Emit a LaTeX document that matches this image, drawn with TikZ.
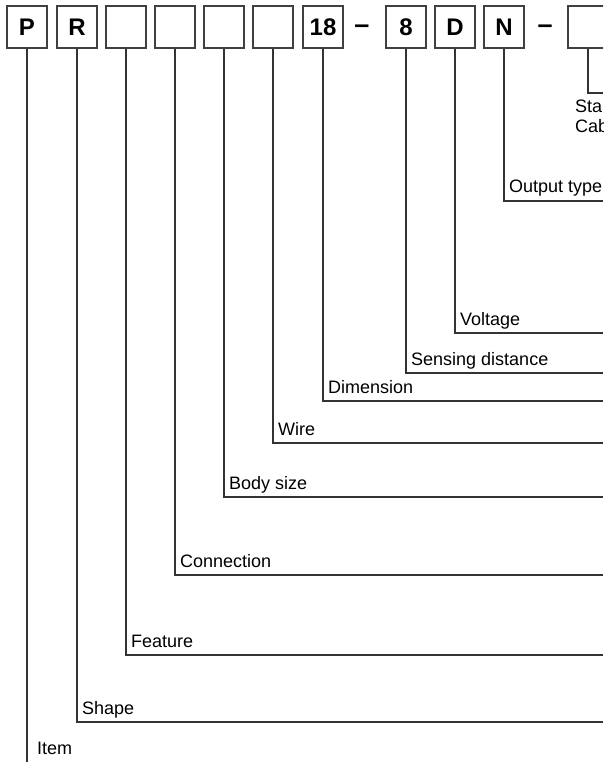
\documentclass[tikz,border=0pt]{standalone}
\usepackage{fontspec}
\setmainfont{Liberation Sans}
\usetikzlibrary{positioning}

\begin{document}
\begin{tikzpicture}[x=1pt,y=-1pt,
    codebox/.style={draw=black!75,line width=1.4pt,minimum width=40pt,minimum height=42pt,
        inner sep=0pt,font=\fontsize{24}{24}\selectfont\bfseries},
    codedash/.style={anchor=base,inner sep=0pt,font=\fontsize{27}{27}\selectfont\bfseries},
    lead/.style={draw=black!80,line width=1.1pt},
    lbl/.style={anchor=base west,inner sep=0pt,font=\fontsize{18}{20}\selectfont}]
    \useasboundingbox (0,0) rectangle (603,762);
    \clip (0,0) rectangle (603,762);

    % code boxes
    \node[codebox] (item) at (27,27) {P};
    \node[codebox] (shape) at (77,27) {R};
    \node[codebox] (feature) at (126,27) {};
    \node[codebox] (connection) at (175,27) {};
    \node[codebox] (bodysize) at (224,27) {};
    \node[codebox] (wire) at (273,27) {};
    \node[codebox] (dimension) at (323,27) {18};
    \node[codebox] (sensing) at (406,27) {8};
    \node[codebox] (voltage) at (455,27) {D};
    \node[codebox] (output) at (504,27) {N};
    \node[codebox] (cable) at (588,27) {};
    \node[codedash] (dashA) at (362,34) {--};
    \node[codedash] (dashB) at (545,34) {--};

    % labels
    \node[lbl] (stalbl) at (575,113) {Sta};
    \node[lbl] (cablbl) at (575,133) {Cab};
    \node[lbl] (outputlbl) at (509,193) {Output type};
    \node[lbl] (voltagelbl) at (460,325) {Voltage};
    \node[lbl] (sensinglbl) at (411,365) {Sensing distance};
    \node[lbl] (dimensionlbl) at (328,393) {Dimension};
    \node[lbl] (wirelbl) at (278,435) {Wire};
    \node[lbl] (bodysizelbl) at (229,489) {Body size};
    \node[lbl] (connectionlbl) at (180,567) {Connection};
    \node[lbl] (featurelbl) at (131,647) {Feature};
    \node[lbl] (shapelbl) at (82,714) {Shape};
    \node[lbl] (itemlbl) at (37,754) {Item};

    % line ends at the right edge
    \coordinate (eCable) at (603,93);
    \coordinate (eOutput) at (603,201);
    \coordinate (eVoltage) at (603,333);
    \coordinate (eSensing) at (603,373);
    \coordinate (eDimension) at (603,401);
    \coordinate (eWire) at (603,443);
    \coordinate (eBodysize) at (603,497);
    \coordinate (eConnection) at (603,575);
    \coordinate (eFeature) at (603,655);
    \coordinate (eShape) at (603,722);
    \coordinate (eItem) at (27,762);

    \draw[lead] (cable.south) |- (eCable);
    \draw[lead] (output.south) |- (eOutput);
    \draw[lead] (voltage.south) |- (eVoltage);
    \draw[lead] (sensing.south) |- (eSensing);
    \draw[lead] (dimension.south) |- (eDimension);
    \draw[lead] (wire.south) |- (eWire);
    \draw[lead] (bodysize.south) |- (eBodysize);
    \draw[lead] (connection.south) |- (eConnection);
    \draw[lead] (feature.south) |- (eFeature);
    \draw[lead] (shape.south) |- (eShape);
    \draw[lead] (item.south) -- (eItem);
\end{tikzpicture}
\end{document}
